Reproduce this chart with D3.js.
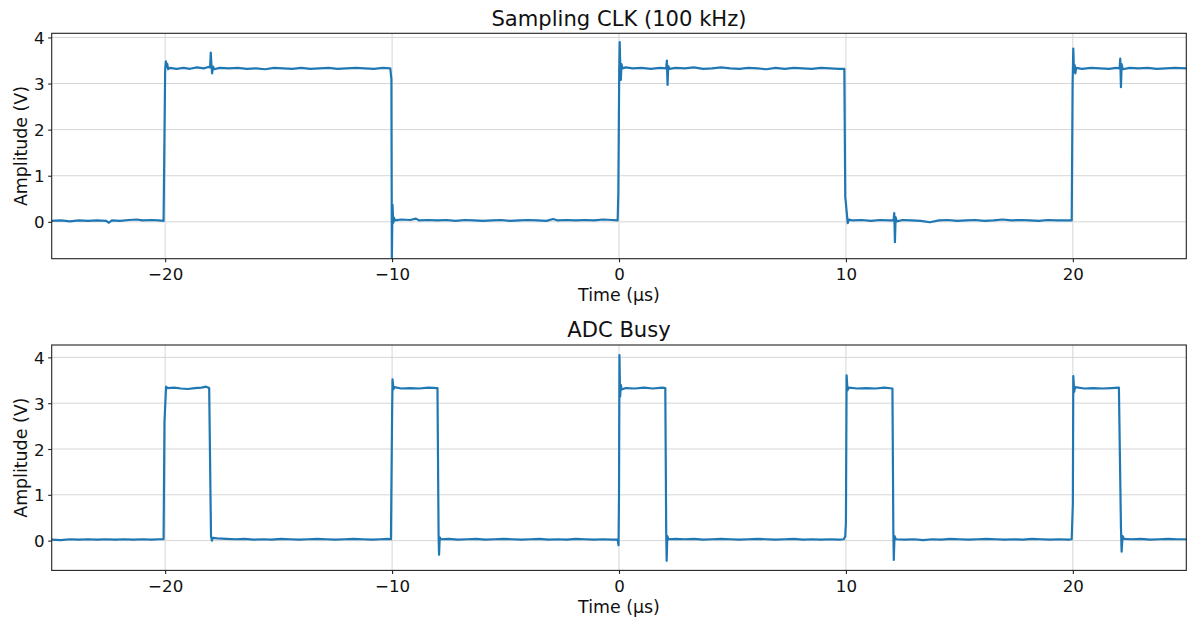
<!DOCTYPE html>
<html>
<head>
<meta charset="utf-8">
<script src="https://cdn.jsdelivr.net/npm/d3@7"></script>
<style>
  html, body { margin: 0; padding: 0; background: #fff; }
  svg { display: block; font-family: "DejaVu Sans", sans-serif; }
</style>
</head>
<body>
<svg id="chart" width="1187" height="619"></svg>
<script>
// Oscilloscope captures, [time in µs, amplitude in V]
const clkTrace = [
  [-25.0,0.02],[-24.6,0.03],[-24.2,0.01],[-23.8,0.03],[-23.4,0.02],[-23.0,0.03],[-22.6,0.02],[-22.48,-0.02],
  [-22.35,0.03],[-22.0,0.02],[-21.6,0.04],[-21.25,0.05],[-21.0,0.03],[-20.6,0.04],[-20.3,0.03],[-20.07,0.02],
  [-20.0,3.30],[-19.97,3.48],[-19.94,3.36],[-19.91,3.43],[-19.87,3.31],[-19.8,3.34],[-19.5,3.32],[-19.2,3.34],
  [-18.9,3.32],[-18.6,3.35],[-18.3,3.33],[-18.1,3.36],[-18.02,3.35],[-17.99,3.67],[-17.96,3.40],[-17.93,3.22],
  [-17.89,3.37],[-17.84,3.31],[-17.6,3.34],[-17.2,3.33],[-16.8,3.34],[-16.4,3.32],[-16.0,3.33],[-15.6,3.31],
  [-15.2,3.34],[-14.8,3.33],[-14.4,3.32],[-14.0,3.34],[-13.6,3.32],[-13.2,3.33],[-12.8,3.34],[-12.4,3.32],
  [-12.0,3.33],[-11.6,3.34],[-11.2,3.33],[-10.8,3.32],[-10.4,3.34],[-10.08,3.33],
  [-10.03,3.10],[-10.01,-0.80],[-9.98,0.37],[-9.95,-0.02],[-9.92,0.09],[-9.87,0.03],[-9.6,0.05],[-9.2,0.04],
  [-8.95,0.07],[-8.8,0.03],[-8.4,0.04],[-8.0,0.03],[-7.6,0.04],[-7.2,0.02],[-6.8,0.04],[-6.4,0.03],[-6.0,0.02],
  [-5.6,0.03],[-5.2,0.04],[-4.8,0.02],[-4.4,0.03],[-4.0,0.04],[-3.6,0.03],[-3.2,0.02],[-2.9,0.06],[-2.7,0.03],
  [-2.3,0.04],[-1.9,0.03],[-1.5,0.04],[-1.1,0.03],[-0.7,0.05],[-0.3,0.04],[-0.06,0.03],
  [-0.03,0.60],[0.01,3.30],[0.03,3.90],[0.06,3.32],[0.08,3.08],[0.11,3.42],[0.15,3.33],[0.3,3.35],[0.6,3.33],
  [1.0,3.34],[1.4,3.32],[1.8,3.34],[2.08,3.33],[2.11,3.50],[2.14,2.97],[2.17,3.38],[2.22,3.32],[2.5,3.34],
  [2.9,3.33],[3.3,3.35],[3.7,3.32],[4.1,3.33],[4.5,3.35],[4.9,3.33],[5.3,3.32],[5.7,3.34],[6.1,3.33],[6.5,3.31],
  [6.9,3.34],[7.3,3.32],[7.7,3.34],[8.1,3.33],[8.5,3.32],[8.9,3.34],[9.3,3.33],[9.7,3.32],[9.93,3.32],
  [9.97,0.55],[10.08,-0.03],[10.14,0.05],[10.3,0.03],[10.7,0.04],[11.1,0.02],[11.5,0.04],[11.9,0.03],[12.1,0.03],
  [12.13,0.19],[12.16,-0.44],[12.19,0.10],[12.24,0.01],[12.5,0.04],[12.9,0.03],[13.3,0.02],[13.7,-0.01],
  [14.1,0.03],[14.5,0.04],[14.9,0.02],[15.3,0.03],[15.7,0.04],[16.1,0.02],[16.5,0.03],[16.9,0.05],[17.3,0.03],
  [17.7,0.04],[18.1,0.03],[18.5,0.02],[18.9,0.04],[19.3,0.03],[19.7,0.03],[19.95,0.03],
  [19.99,3.00],[20.02,3.76],[20.05,3.25],[20.08,3.40],[20.11,3.22],[20.15,3.34],[20.4,3.32],[20.8,3.34],
  [21.2,3.33],[21.6,3.32],[21.9,3.34],[22.06,3.33],[22.09,3.54],[22.12,2.92],[22.15,3.42],[22.2,3.31],
  [22.5,3.34],[22.9,3.33],[23.3,3.34],[23.7,3.32],[24.1,3.33],[24.5,3.34],[25.0,3.33]
];

const busyTrace = [
  [-25.0,0.02],[-24.6,0.01],[-24.2,0.03],[-23.8,0.02],[-23.4,0.03],[-23.0,0.02],[-22.6,0.03],[-22.2,0.02],
  [-21.8,0.03],[-21.4,0.02],[-21.0,0.03],[-20.6,0.02],[-20.3,0.03],[-20.07,0.03],
  [-20.03,2.60],[-19.96,3.36],[-19.9,3.33],[-19.6,3.34],[-19.3,3.32],[-19.0,3.31],[-18.7,3.33],[-18.4,3.34],
  [-18.2,3.36],[-18.06,3.33],
  [-17.98,0.10],[-17.94,0.00],[-17.9,0.06],[-17.7,0.05],[-17.3,0.04],[-16.9,0.03],[-16.5,0.04],[-16.1,0.02],
  [-15.7,0.03],[-15.3,0.02],[-14.9,0.04],[-14.5,0.03],[-14.1,0.02],[-13.7,0.03],[-13.3,0.04],[-12.9,0.03],
  [-12.5,0.02],[-12.1,0.03],[-11.7,0.04],[-11.3,0.03],[-10.9,0.02],[-10.5,0.03],[-10.2,0.04],[-10.05,0.03],
  [-10.0,2.70],[-9.98,3.52],[-9.94,3.30],[-9.9,3.35],[-9.6,3.32],[-9.2,3.33],[-8.8,3.32],[-8.4,3.34],[-8.0,3.33],
  [-7.95,0.10],[-7.93,-0.31],[-7.9,0.07],[-7.85,0.03],[-7.5,0.04],[-7.1,0.02],[-6.7,0.03],[-6.3,0.04],
  [-5.9,0.02],[-5.5,0.03],[-5.1,0.04],[-4.7,0.03],[-4.3,0.02],[-3.9,0.03],[-3.5,0.04],[-3.1,0.02],[-2.7,0.03],
  [-2.3,0.02],[-1.9,0.04],[-1.5,0.03],[-1.1,0.02],[-0.7,0.03],[-0.3,0.02],[-0.06,0.02],[-0.02,-0.10],
  [0.0,1.00],[0.02,4.05],[0.05,3.14],[0.08,3.40],[0.12,3.30],[0.3,3.33],[0.7,3.32],[1.1,3.34],[1.5,3.32],
  [1.9,3.34],[2.04,3.33],
  [2.08,0.20],[2.10,-0.44],[2.13,0.10],[2.18,0.03],[2.5,0.04],[2.9,0.03],[3.3,0.04],[3.7,0.02],[4.1,0.03],
  [4.5,0.04],[4.9,0.03],[5.3,0.02],[5.7,0.03],[6.1,0.04],[6.5,0.03],[6.9,0.02],[7.3,0.03],[7.7,0.04],[8.1,0.02],
  [8.5,0.03],[8.9,0.02],[9.3,0.03],[9.7,0.02],[9.9,0.03],[9.97,0.09],
  [10.0,0.40],[10.03,3.61],[10.07,3.28],[10.12,3.34],[10.5,3.32],[10.9,3.33],[11.3,3.32],[11.7,3.34],[12.05,3.32],
  [12.09,0.20],[12.11,-0.42],[12.14,0.10],[12.2,0.03],[12.6,0.02],[13.0,0.03],[13.4,0.01],[13.8,0.03],
  [14.2,0.02],[14.6,0.04],[15.0,0.03],[15.4,0.02],[15.8,0.03],[16.2,0.04],[16.6,0.03],[17.0,0.02],[17.4,0.03],
  [17.8,0.02],[18.2,0.04],[18.6,0.03],[19.0,0.02],[19.4,0.03],[19.8,0.02],[19.95,0.03],
  [20.0,0.80],[20.02,3.59],[20.06,3.25],[20.1,3.35],[20.5,3.32],[20.9,3.33],[21.3,3.32],[21.7,3.33],[22.03,3.34],
  [22.12,0.30],[22.15,-0.24],[22.19,0.10],[22.25,0.04],[22.6,0.03],[23.0,0.04],[23.4,0.02],[23.8,0.03],
  [24.2,0.04],[24.6,0.03],[25.0,0.03]
];

const xTicks = [-20, -10, 0, 10, 20];
const yTicks = [0, 1, 2, 3, 4];

const panels = [
  { title: "Sampling CLK (100 kHz)", trace: clkTrace, top: 33.3, yDomain: [-0.80, 4.09] },
  { title: "ADC Busy", trace: busyTrace, top: 345, yDomain: [-0.65, 4.27] }
];

const svg = d3.select("#chart");
const left = 51.7, right = 1186.3, plotH = 225.4;
const tickFont = 16.67, labelFont = 17.4, titleFont = 21.1;

const x = d3.scaleLinear().domain([-25, 25]).range([left, right]);
const fmt = d3.format("");

panels.forEach((p, i) => {
  const top = p.top, bottom = top + plotH;
  const y = d3.scaleLinear().domain(p.yDomain).range([bottom, top]);
  const g = svg.append("g");

  // grid
  g.append("g").selectAll("line.gx").data(xTicks).join("line")
    .attr("x1", d => x(d)).attr("x2", d => x(d)).attr("y1", top).attr("y2", bottom)
    .attr("stroke", "#d6d6d6").attr("stroke-width", 1);
  g.append("g").selectAll("line.gy").data(yTicks).join("line")
    .attr("y1", d => y(d)).attr("y2", d => y(d)).attr("x1", left).attr("x2", right)
    .attr("stroke", "#d6d6d6").attr("stroke-width", 1);

  // trace
  const clipId = "clip" + i;
  svg.append("clipPath").attr("id", clipId).append("rect")
    .attr("x", left).attr("y", top).attr("width", right - left).attr("height", plotH);
  const line = d3.line().x(d => x(d[0])).y(d => y(d[1]));
  g.append("path").datum(p.trace)
    .attr("clip-path", `url(#${clipId})`)
    .attr("d", line)
    .attr("fill", "none").attr("stroke", "#1f77b4")
    .attr("stroke-width", 2.2).attr("stroke-linejoin", "round").attr("stroke-linecap", "square");

  // axes
  const xAxis = d3.axisBottom(x).tickValues(xTicks).tickSize(3.5).tickPadding(6).tickFormat(fmt);
  const gx = g.append("g").attr("transform", `translate(0,${bottom})`).call(xAxis);
  const yAxis = d3.axisLeft(y).tickValues(yTicks).tickSize(3.5).tickPadding(3.5).tickFormat(fmt);
  const gy = g.append("g").attr("transform", `translate(${left},0)`).call(yAxis);
  [gx, gy].forEach(a => {
    a.select(".domain").remove();
    a.selectAll(".tick line").attr("stroke", "#222").attr("stroke-width", 1.1);
    a.selectAll(".tick text").attr("fill", "#111").attr("font-size", tickFont)
      .attr("font-family", "DejaVu Sans");
  });
  gy.selectAll(".tick text").attr("dy", "0.36em");

  // frame
  g.append("rect").attr("x", left).attr("y", top).attr("width", right - left).attr("height", plotH)
    .attr("fill", "none").attr("stroke", "#222").attr("stroke-width", 1.1);

  // labels
  g.append("text").attr("x", (left + right) / 2).attr("y", bottom + 42.3)
    .attr("text-anchor", "middle").attr("font-size", labelFont).attr("fill", "#111")
    .text("Time (µs)");
  g.append("text")
    .attr("transform", `translate(26.5,${(top + bottom) / 2}) rotate(-90)`)
    .attr("text-anchor", "middle").attr("font-size", labelFont).attr("fill", "#111")
    .text("Amplitude (V)");
  g.append("text").attr("x", (left + right) / 2).attr("y", top - 7.8)
    .attr("text-anchor", "middle").attr("font-size", titleFont).attr("fill", "#111")
    .text(p.title);
});
</script>
</body>
</html>
